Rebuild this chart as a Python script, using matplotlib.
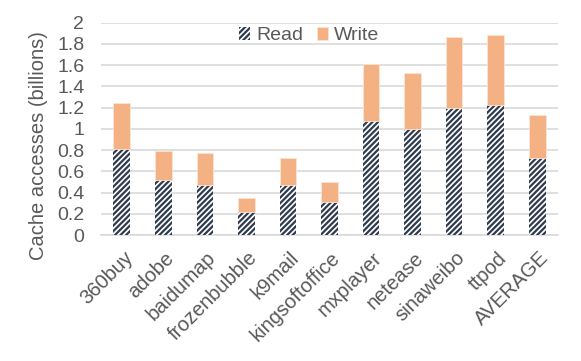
import matplotlib
matplotlib.use("Agg")
import matplotlib.pyplot as plt
import matplotlib.transforms as mtransforms
import numpy as np

plt.rcParams['font.family'] = ['Liberation Sans', 'DejaVu Sans']
plt.rcParams['hatch.linewidth'] = 1.6
plt.rcParams['hatch.color'] = '#2E3A4E'

categories = ['360buy', 'adobe', 'baidumap', 'frozenbubble', 'k9mail', 'kingsoftoffice',
              'mxplayer', 'netease', 'sinaweibo', 'ttpod', 'AVERAGE']
read_vals = [0.81, 0.515, 0.47, 0.214, 0.47, 0.31, 1.073, 0.995, 1.193, 1.221, 0.728]
total_vals = [1.245, 0.79, 0.775, 0.345, 0.728, 0.50, 1.607, 1.525, 1.867, 1.88, 1.127]
write_vals = [t - r for t, r in zip(total_vals, read_vals)]
yticks = [0, 0.2, 0.4, 0.6, 0.8, 1, 1.2, 1.4, 1.6, 1.8, 2]

grey = '#595959'
fig = plt.figure(figsize=(5.81, 3.61), dpi=100)
ax = fig.add_axes([101/581, 1 - 235/361, 457/581, (235 - 22.7)/361])

x = np.arange(len(categories))
ax.bar(x, read_vals, width=0.4, color='white', hatch='//////', edgecolor='#2E3A4E',
       linewidth=0, label='Read', zorder=3)
ax.bar(x, write_vals, bottom=read_vals, width=0.4, color='#F4B183', edgecolor='#FBE5D6',
       linewidth=0.6, label='Write', zorder=3)

ax.set_xlim(-0.5, len(categories) - 0.5)
ax.set_ylim(0, 2)
ax.set_yticks(yticks)
ax.set_yticklabels([f'{v:g}' for v in yticks])
ax.yaxis.grid(True, color='#D9D9D9', linewidth=1.2, zorder=0)
ax.set_axisbelow(True)
for s in ['top', 'right', 'left']:
    ax.spines[s].set_visible(False)
ax.spines['bottom'].set_color('#D9D9D9')
ax.spines['bottom'].set_linewidth(1.2)
ax.tick_params(axis='y', length=0, labelsize=14, colors=grey, pad=12)
ax.tick_params(axis='x', length=0, labelsize=14.5, colors=grey, pad=0)
ax.set_xticks(x)
ax.set_xticklabels(categories, rotation=45, ha='right', va='center', rotation_mode='anchor')
offset = mtransforms.ScaledTranslation(8/100, -20/100, fig.dpi_scale_trans)
for lbl in ax.get_xticklabels():
    lbl.set_transform(lbl.get_transform() + offset)
ax.set_ylabel('Cache accesses (billions)', fontsize=14.5, color=grey, labelpad=6)
ax.yaxis.set_label_coords(-0.115, 0.42)

leg = ax.legend(loc='upper center', bbox_to_anchor=(0.455, 1.06), ncol=2, frameon=False,
                fontsize=14, handlelength=0.6, handleheight=0.6, handletextpad=0.3,
                columnspacing=0.7, labelcolor=grey)

fig.savefig('out.png', dpi=100)
